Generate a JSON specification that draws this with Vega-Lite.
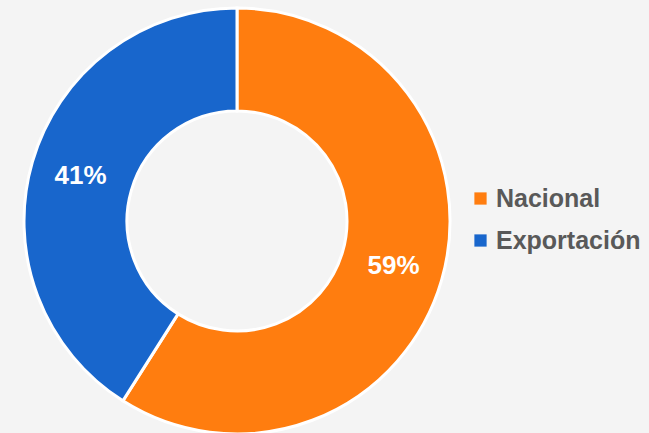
{
  "$schema": "https://vega.github.io/schema/vega-lite/v6.json",
  "width": 474,
  "height": 442,
  "autosize": "none",
  "padding": {"left": 0, "top": 0, "right": 175, "bottom": 0},
  "background": "#f4f4f4",
  "config": {"view": {"stroke": null}, "font": "Liberation Sans"},
  "data": {"values": [
    {"tipo": "Nacional", "valor": 59, "etiqueta": "59%", "orden": 1},
    {"tipo": "Exportación", "valor": 41, "etiqueta": "41%", "orden": 2}
  ]},
  "encoding": {
    "theta": {"field": "valor", "type": "quantitative", "stack": true},
    "order": {"field": "orden", "type": "quantitative"}
  },
  "layer": [
    {
      "mark": {"type": "arc", "outerRadius": 213, "innerRadius": 110, "stroke": "#ffffff", "strokeWidth": 3},
      "encoding": {
        "color": {
          "field": "tipo", "type": "nominal",
          "scale": {"domain": ["Nacional", "Exportación"], "range": ["#ff7d0f", "#1866cc"]},
          "legend": {
            "title": null, "orient": "none", "legendX": 468, "legendY": 186,
            "symbolType": "square", "symbolSize": 150, "symbolStrokeWidth": 0,
            "labelFont": "Liberation Sans", "labelFontSize": 25, "labelFontWeight": "bold",
            "labelColor": "#595959", "labelOffset": 3, "rowPadding": 16, "labelLimit": 300
          }
        }
      }
    },
    {
      "mark": {"type": "text", "radius": 163, "font": "Liberation Sans", "fontSize": 26, "fontWeight": "bold", "color": "#ffffff"},
      "encoding": {"text": {"field": "etiqueta", "type": "nominal"}}
    }
  ]
}
